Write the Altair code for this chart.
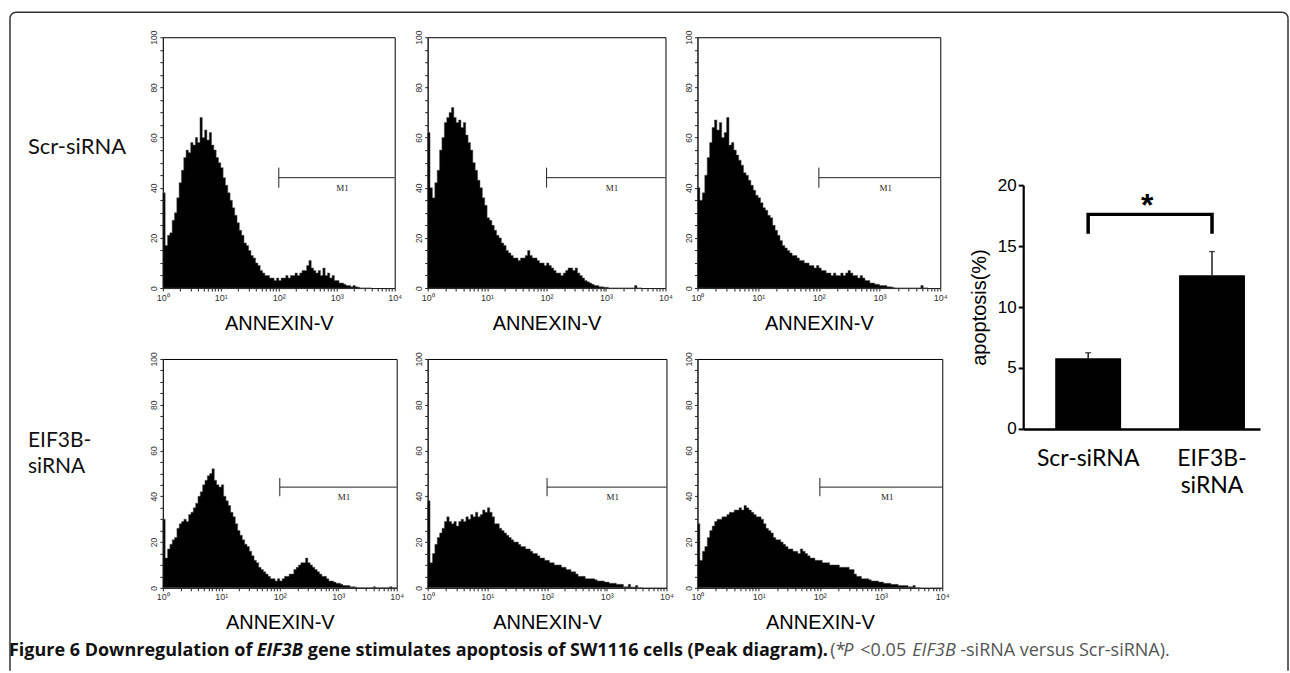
import altair as alt
import pandas as pd

# ---------------- data ----------------
BIN_DECADES = 0.04  # width of one histogram channel group, in decades of ANNEXIN-V

SCR_1 = [38, 17, 21, 22, 27, 30, 36, 42, 47, 52, 55, 54, 58, 57, 60, 58, 68, 60, 63, 59,
         62, 57, 55, 52, 50, 48, 44, 41, 38, 35, 32, 29, 26, 23, 21, 18, 17, 15, 13, 12,
         10, 9, 7, 6, 5, 5, 4, 4, 3, 4, 3, 4, 4, 5, 4, 5, 5, 6, 5, 6,
         7, 7, 9, 11, 8, 7, 6, 7, 5, 8, 5, 6, 4, 5, 3, 3, 2, 2, 1.5, 1,
         1, 0.5, 1, 0.5, 0.3, 0, 0, 0, 0, 0]
SCR_2 = [62, 40, 36, 42, 47, 55, 60, 66, 68, 70, 72, 68, 66, 67, 64, 66, 61, 58, 55, 50,
         47, 43, 40, 36, 33, 28, 27, 25, 23, 21, 20, 18, 17, 15, 14, 13, 12, 12, 11, 12,
         12, 13, 15, 13, 12, 12, 11, 10, 10, 9, 10, 9, 8, 7, 6, 6, 5, 6, 7, 8,
         8, 7, 8, 6, 5, 4, 3, 2.5, 2, 1.5, 1, 1, 0.5, 0.5, 0.3, 0.3, 0, 0, 0, 0,
         0, 0, 0, 0, 0, 0, 0, 1, 0, 0]
SCR_3 = [40, 35, 38, 45, 52, 58, 64, 67, 63, 66, 60, 62, 68, 57, 58, 55, 53, 51, 49, 46,
         45, 43, 41, 39, 37, 36, 34, 32, 31, 29, 28, 25, 23, 21, 19, 17, 16, 15, 14, 13,
         13, 12, 11, 11, 10, 10, 9, 9, 8, 9, 8, 7, 7, 6, 6, 5, 6, 5, 5, 6,
         5, 6, 7, 6, 5, 5, 4, 5, 4, 3, 3, 2, 2, 1.5, 1.5, 1, 1, 1, 0.5, 0.5,
         0.3, 0, 0, 0, 0, 0, 0, 0, 0, 0, 0, 0, 1, 0, 0]
EIF_1 = [30, 13, 17, 19, 21, 22, 26, 28, 29, 30, 29, 32, 33, 35, 37, 40, 42, 45, 47, 49,
         50, 52, 47, 45, 44, 45, 40, 38, 36, 33, 31, 28, 25, 23, 21, 19, 18, 16, 14, 12,
         11, 9, 8, 7, 6, 5, 4, 4, 3, 4, 3, 4, 5, 5, 6, 6, 8, 9, 10, 11,
         11, 13, 11, 10, 9, 8, 7, 6, 5, 5, 4, 3, 3, 2.5, 2, 2, 1.5, 1, 1, 1,
         0.5, 0.5, 0.3, 0, 0, 0, 0, 0, 0, 0, 0.5, 0, 0, 0, 0, 0, 0, 0.5, 0, 0]
EIF_2 = [38, 11, 15, 19, 22, 24, 26, 29, 31, 29, 28, 29, 27, 29, 30, 29, 31, 30, 32, 31,
         33, 31, 32, 34, 33, 35, 33, 31, 28, 28, 26, 25, 24, 23, 22, 21, 20, 20, 19, 18,
         18, 17, 17, 16, 15, 15, 14, 13, 13, 12, 12, 11, 11, 10, 10, 10, 9, 9, 8, 8,
         7, 7, 6, 5, 5, 5, 4, 4, 4, 4, 3.5, 3, 3, 3, 2.5, 2.5, 2, 2, 2, 1.5,
         1.5, 1.5, 0.5, 0.5, 1.5, 0.3, 0.3, 1, 0, 0]
EIF_3 = [28, 12, 16, 18, 22, 25, 27, 29, 30, 30, 31, 31, 32, 33, 33, 34, 34, 35, 34, 36,
         35, 34, 33, 32, 31, 31, 30, 28, 26, 25, 24, 22, 21, 21, 20, 19, 18, 17, 17, 16,
         16, 15, 17, 16, 15, 14, 13, 13, 12, 12, 12, 11, 11, 11, 10, 10, 10, 10, 9, 9,
         9, 9, 8, 8, 6, 5, 5, 4, 4, 4, 3.5, 3, 3, 3, 2.5, 2.5, 2, 2, 2, 1.5,
         1.5, 1.5, 1, 1, 1, 1, 0.5, 0.5, 1, 0, 0]

M1_START, M1_END, M1_LEVEL, M1_LO, M1_HI = 100, 10000, 44, 40, 48
M1_LABEL_X, M1_LABEL_Y = 1260, 41.5

GROUPS = ["Scr-siRNA", "EIF3B-siRNA"]
APOPTOSIS = [5.8, 12.6]
APOPTOSIS_UPPER = [6.25, 14.55]
BRACKET_GROUPS = ["Scr-siRNA", "Scr-siRNA", "EIF3B-siRNA", "EIF3B-siRNA"]
BRACKET_LEVELS = [16.15, 17.6, 17.6, 16.15]
STAR_LEVEL = 17.5

X_TICKS = [m * 10 ** e for e in range(4) for m in range(1, 10)] + [10000]

SANS = "Liberation Sans"
NARROW = "'Liberation Sans Narrow', 'Liberation Sans'"
LABEL_FONT = "Lato"
CAPTION_FONT = "Open Sans"

one = pd.DataFrame({"k": [0]})


def hist_df(vals):
    xs = [10 ** (i * BIN_DECADES) for i in range(len(vals) + 1)]
    return pd.DataFrame({"fl": xs, "count": list(vals) + [0]})


def hist_panel(vals, w, h):
    xs = alt.Scale(type="log", domain=[1, 10000], nice=False)
    ys = alt.Scale(domain=[0, 100], nice=False)
    xax = alt.Axis(values=X_TICKS,
                   labelExpr="datum.value == 1 ? '10⁰' : datum.value == 10 ? '10¹' : datum.value == 100 ? '10²' : datum.value == 1000 ? '10³' : datum.value == 10000 ? '10⁴' : ''",
                   labelFont=SANS, labelFontSize=9, labelColor="#333", labelPadding=2,
                   labelOverlap=False, labelFlush=False, tickSize=3, tickColor="#222",
                   domainColor="#222", grid=False,
                   title="ANNEXIN-V", titleFont=SANS, titleFontSize=20,
                   titleFontWeight="normal", titleColor="black", titlePadding=11)
    yax = alt.Axis(values=list(range(0, 101, 5)),
                   labelExpr="datum.value % 20 == 0 ? datum.label : ''",
                   labelAngle=270, labelFont=SANS, labelFontSize=8.5, labelColor="#333",
                   labelPadding=1, labelOverlap=False, labelFlush=False,
                   tickSize=3, tickColor="#222", domainColor="#222", grid=False, title=None)
    area = alt.Chart(hist_df(vals)).mark_area(
        interpolate="step-after", color="black", stroke="#555", strokeWidth=0.5
    ).encode(x=alt.X("fl:Q", scale=xs, axis=xax), y=alt.Y("count:Q", scale=ys, axis=yax))
    mdf = pd.DataFrame({"fl": [M1_START], "fl2": [M1_END], "count": [M1_LEVEL],
                        "lo": [M1_LO], "hi": [M1_HI], "tx": [M1_LABEL_X],
                        "ty": [M1_LABEL_Y], "label": ["M1"]})
    hline = alt.Chart(mdf).mark_rule(color="#222", strokeWidth=1).encode(
        x=alt.X("fl:Q", scale=xs, axis=xax), x2="fl2:Q", y=alt.Y("count:Q", scale=ys, axis=yax))
    vline = alt.Chart(mdf).mark_rule(color="#222", strokeWidth=1).encode(
        x=alt.X("fl:Q", scale=xs, axis=xax), y=alt.Y("lo:Q", scale=ys, axis=yax), y2="hi:Q")
    txt = alt.Chart(mdf).mark_text(font="Liberation Serif", fontSize=9, color="#222",
                                   baseline="top", align="center").encode(
        x=alt.X("tx:Q", scale=xs, axis=xax), y=alt.Y("ty:Q", scale=ys, axis=yax), text="label:N")
    return alt.layer(area, hline, vline, txt).properties(width=w, height=h)


h1 = hist_panel(SCR_1, 232, 251)
h2 = hist_panel(SCR_2, 238, 251)
h3 = hist_panel(SCR_3, 243, 251)
h4 = hist_panel(EIF_1, 234, 229)
h5 = hist_panel(EIF_2, 239, 229)
h6 = hist_panel(EIF_3, 245, 229)

# ---------------- bar chart ----------------
bars_df = pd.DataFrame({"group": GROUPS, "value": APOPTOSIS, "upper": APOPTOSIS_UPPER})
bracket_df = pd.DataFrame({"group": BRACKET_GROUPS, "value": BRACKET_LEVELS,
                           "seq": list(range(len(BRACKET_GROUPS)))})
star_df = pd.DataFrame({"value": [STAR_LEVEL]})

bx = alt.Scale(domain=GROUPS, range=[50, 287], paddingInner=0.468, paddingOuter=0.19, align=0.68)
by = alt.Scale(domain=[0, 20], range=[392, 148], nice=False)
bxax = alt.Axis(title=None, offset=141, domainColor="black", domainWidth=2.5, ticks=False,
                labelFont=LABEL_FONT, labelFontSize=23, labelColor="black", labelPadding=30,
                labelBaseline="middle", labelLineHeight=27, labelAngle=0,
                labelExpr="datum.label == 'EIF3B-siRNA' ? ['EIF3B-', 'siRNA'] : datum.label")
byax = alt.Axis(title="apoptosis(%)", values=[0, 5, 10, 15, 20], offset=-50,
                domainColor="black", domainWidth=2.2, tickColor="black", tickWidth=2,
                tickSize=5, labelFont=NARROW, labelFontSize=17, labelColor="black",
                labelPadding=2, titleFont=SANS, titleFontSize=20, titleFontWeight="normal",
                titleColor="black", titlePadding=8, grid=False)

X = alt.X("group:N", sort=GROUPS, scale=bx, axis=bxax)
bar = alt.Chart(bars_df).mark_bar(color="black").encode(
    x=X, y=alt.Y("value:Q", scale=by, axis=byax))
err = alt.Chart(bars_df).mark_rule(color="black", strokeWidth=1.3).encode(
    x=X, y=alt.Y("value:Q", scale=by, axis=byax), y2="upper:Q")
cap = alt.Chart(bars_df).mark_tick(color="black", orient="horizontal", size=6, thickness=1.3).encode(
    x=X, y=alt.Y("upper:Q", scale=by, axis=byax))
bracket = alt.Chart(bracket_df).mark_line(color="black", strokeWidth=3.5, strokeJoin="miter",
                                          strokeCap="square").encode(
    x=X, y=alt.Y("value:Q", scale=by, axis=byax), order="seq:Q")
star = alt.Chart(star_df).mark_text(text="*", font=SANS, fontSize=32, fontWeight="bold",
                                    align="center", baseline="alphabetic", color="black").encode(
    x=alt.value(174), y=alt.Y("value:Q", scale=by, axis=byax))
B1 = alt.layer(bar, err, cap, bracket, star).properties(
    width=287, height=251, view=alt.ViewBackground(stroke="transparent"))

# ---------------- row labels, frame, caption ----------------
def label(text, x, y, size=22, font=LABEL_FONT, weight="normal", style="normal", color="#111",
          baseline="middle"):
    return alt.Chart(one).mark_text(text=text, font=font, fontSize=size, fontWeight=weight,
                                    fontStyle=style, color=color, align="left",
                                    baseline=baseline).encode(x=alt.value(x), y=alt.value(y))


def hrule(x1, x2, y):
    return alt.Chart(one).mark_rule(color="#333", strokeWidth=1.5).encode(
        x=alt.value(x1), x2=alt.value(x2), y=alt.value(y))


def vrule(x, y1, y2):
    return alt.Chart(one).mark_rule(color="#333", strokeWidth=1.5).encode(
        x=alt.value(x), y=alt.value(y1), y2=alt.value(y2))


def corner(cx, cy, t1, t2):
    return alt.Chart(one).mark_arc(color="#333", radius=6.75, radius2=5.25,
                                   theta=t1, theta2=t2).encode(x=alt.value(cx), y=alt.value(cy))


L1 = alt.layer(
    label("Scr-siRNA", 27, 110),
    hrule(15, 1282, -25), vrule(9, -19, 634), vrule(1288, -19, 634),
    corner(15, -19, 4.712, 6.283), corner(1282, -19, 0.0, 1.571),
).properties(width=131, height=251, view=alt.ViewBackground(stroke="transparent"))

CAP_Y = 297
CAP_SIZE = 18
L2 = alt.layer(
    label("EIF3B-", 27, 82, 21),
    label("siRNA", 27, 108, 21),
    label("Figure 6 Downregulation of", 8, CAP_Y, CAP_SIZE, CAPTION_FONT, "bold", baseline="alphabetic"),
    label("EIF3B", 256, CAP_Y, CAP_SIZE, CAPTION_FONT, "bold", "italic", baseline="alphabetic"),
    label("gene stimulates apoptosis of SW1116 cells (Peak diagram).", 307, CAP_Y, CAP_SIZE,
          CAPTION_FONT, "bold", baseline="alphabetic"),
    label("(*", 830, CAP_Y, CAP_SIZE, CAPTION_FONT, color="#555", baseline="alphabetic"),
    label("P", 843, CAP_Y, CAP_SIZE, CAPTION_FONT, style="italic", color="#555", baseline="alphabetic"),
    label("<0.05", 860, CAP_Y, CAP_SIZE, CAPTION_FONT, color="#555", baseline="alphabetic"),
    label("EIF3B", 912, CAP_Y, CAP_SIZE, CAPTION_FONT, style="italic", color="#555", baseline="alphabetic"),
    label("-siRNA versus Scr-siRNA).", 960, CAP_Y, CAP_SIZE, CAPTION_FONT, color="#555",
          baseline="alphabetic"),
).properties(width=131, height=229, view=alt.ViewBackground(stroke="transparent"))

chart = alt.concat(
    L1, h1, h2, h3, B1, L2, h4, h5, h6,
    columns=5, spacing={"row": 71, "column": 31}, bounds="flush", align="each",
).properties(
    padding={"left": 0, "top": 10, "right": 0, "bottom": 0},
    background="white",
).configure_view(stroke="black", strokeWidth=1)

chart.save("out.html", embed_options={"renderer": "svg", "actions": False})
